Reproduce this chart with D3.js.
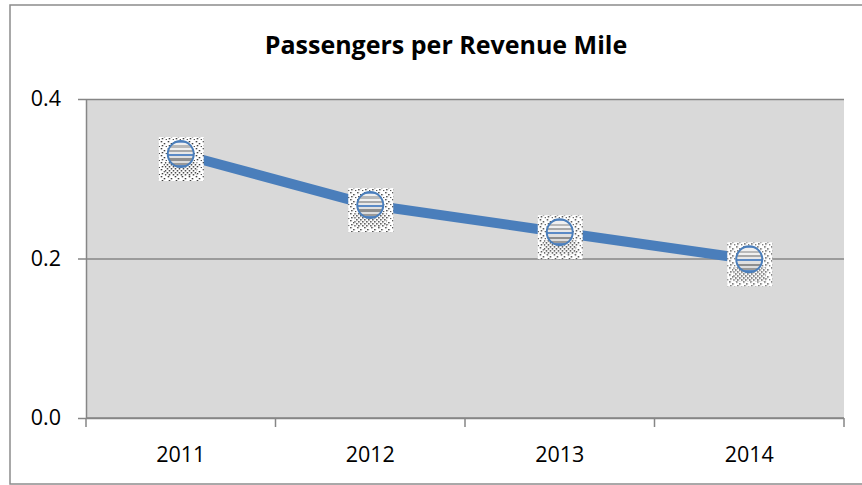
<!DOCTYPE html>
<html>
<head>
<meta charset="utf-8">
<script src="https://cdn.jsdelivr.net/npm/d3@7"></script>
<style>
  body { margin: 0; background: #fff; }
  svg { display: block; font-family: "Open Sans", "Liberation Sans", sans-serif; }
</style>
</head>
<body>
<div id="chart"></div>
<script>
// data
var years = ["2011", "2012", "2013", "2014"];
var passengersPerMile = [0.331, 0.267, 0.233, 0.199];
var yTicks = [0.0, 0.2, 0.4];
var chartTitle = "Passengers per Revenue Mile";

var W = 862, H = 485;
var margin = {top: 99, right: 18, bottom: 67, left: 86},
    width = W - margin.left - margin.right,
    height = H - margin.top - margin.bottom;

var svg = d3.select("#chart")
  .append("svg")
    .attr("width", W)
    .attr("height", H);

var defs = svg.append("defs");

// speckled background of the marker squares
var dots = defs.append("pattern")
    .attr("id", "dots")
    .attr("width", 7).attr("height", 7)
    .attr("patternUnits", "userSpaceOnUse");
dots.append("rect").attr("width", 7).attr("height", 7).attr("fill", "#fff");
[[1,1],[4,3],[2,5],[6,6]].forEach(function(p) {
  dots.append("rect").attr("x", p[0]).attr("y", p[1])
    .attr("width", 1.3).attr("height", 1.3).attr("fill", "#111");
});

var dense = defs.append("pattern")
    .attr("id", "dense")
    .attr("width", 4).attr("height", 4)
    .attr("patternUnits", "userSpaceOnUse");
dense.append("rect").attr("width", 4).attr("height", 4).attr("fill", "#fff");
dense.append("rect").attr("x", 0).attr("y", 0).attr("width", 1.3).attr("height", 1.5).attr("fill", "#222");
dense.append("rect").attr("x", 2).attr("y", 2).attr("width", 1.3).attr("height", 1.5).attr("fill", "#222");

// striped ball fill
var stripes = defs.append("linearGradient")
    .attr("id", "stripes")
    .attr("x1", 0).attr("y1", 0).attr("x2", 0).attr("y2", 1);
var stripeCols = ["#7fa3d4", "#f0f0f0", "#b9b9b9", "#f0f0f0", "#a8a8a8", "#e8e8e8",
                  "#5b8ac6", "#e0e0e0", "#8e8e8e", "#dcdcdc", "#9a9a9a", "#5b8ac6"];
stripeCols.forEach(function(c, i) {
  stripes.append("stop").attr("offset", i / stripeCols.length).attr("stop-color", c);
  stripes.append("stop").attr("offset", (i + 1) / stripeCols.length).attr("stop-color", c);
});

// outer chart frame
svg.append("rect")
    .attr("x", 10).attr("y", 5)
    .attr("width", W).attr("height", 479)
    .attr("fill", "#fff")
    .attr("stroke", "#8c8c8c")
    .attr("stroke-width", 1.5);

svg.append("text")
    .attr("x", 446).attr("y", 54)
    .attr("text-anchor", "middle")
    .attr("font-weight", "bold")
    .attr("font-size", "25px")
    .attr("fill", "#000")
    .text(chartTitle);

var g = svg.append("g")
    .attr("transform", `translate(${margin.left},${margin.top})`);

var x = d3.scaleBand()
  .domain(years)
  .range([0, width]);

var y = d3.scaleLinear()
  .domain([0, 0.4])
  .range([height, 0]);

g.append("rect")
    .attr("width", width).attr("height", height)
    .attr("fill", "#d9d9d9");

// gridlines + y ticks
g.append("g")
  .call(d3.axisLeft(y).tickValues(yTicks).tickSize(-width - 8).tickFormat(""))
  .call(a => a.select(".domain").remove())
  .selectAll("line")
    .attr("x1", -8)
    .attr("x2", width)
    .attr("stroke", "#868686")
    .attr("stroke-width", 1.5);

g.append("g")
  .call(d3.axisLeft(y).tickValues(yTicks).tickSize(0).tickPadding(25).tickFormat(d3.format(".1f")))
  .call(a => a.select(".domain").attr("stroke", "#868686").attr("stroke-width", 1.5))
  .selectAll("text")
    .attr("font-size", "21.5px")
    .attr("font-family", "Open Sans, sans-serif")
    .attr("fill", "#000");

// x axis with ticks at category boundaries
var xAxis = g.append("g")
  .attr("transform", `translate(0,${height})`);
xAxis.append("line")
    .attr("x1", 0).attr("x2", width)
    .attr("stroke", "#868686").attr("stroke-width", 1.5);
xAxis.selectAll(".bound")
  .data(years.concat(["end"]))
  .join("line")
    .attr("x1", (d, i) => i < years.length ? x(d) : width)
    .attr("x2", (d, i) => i < years.length ? x(d) : width)
    .attr("y1", 0).attr("y2", 9)
    .attr("stroke", "#868686").attr("stroke-width", 1.5);
xAxis.selectAll(".lbl")
  .data(years)
  .join("text")
    .attr("x", d => x(d) + x.bandwidth() / 2)
    .attr("y", 44)
    .attr("text-anchor", "middle")
    .attr("font-size", "21.5px")
    .attr("fill", "#000")
    .text(d => d);

// the line
var pts = years.map((yr, i) => [x(yr) + x.bandwidth() / 2, y(passengersPerMile[i])]);
g.append("path")
    .datum(pts)
    .attr("d", d3.line())
    .attr("fill", "none")
    .attr("stroke", "#4a7ebb")
    .attr("stroke-width", 10)
    .attr("stroke-linejoin", "round");

// markers
var mk = g.selectAll(".mk")
  .data(pts)
  .join("g")
    .attr("transform", d => `translate(${d[0]},${d[1]})`);
mk.append("rect")
    .attr("x", -22).attr("y", -17)
    .attr("width", 45).attr("height", 44)
    .attr("fill", "url(#dots)");
mk.append("rect")
    .attr("x", -16).attr("y", 8)
    .attr("width", 32).attr("height", 14)
    .attr("fill", "url(#dense)");
mk.append("circle")
    .attr("r", 13)
    .attr("fill", "url(#stripes)")
    .attr("stroke", "#4a7ebb")
    .attr("stroke-width", 2);
</script>
</body>
</html>
